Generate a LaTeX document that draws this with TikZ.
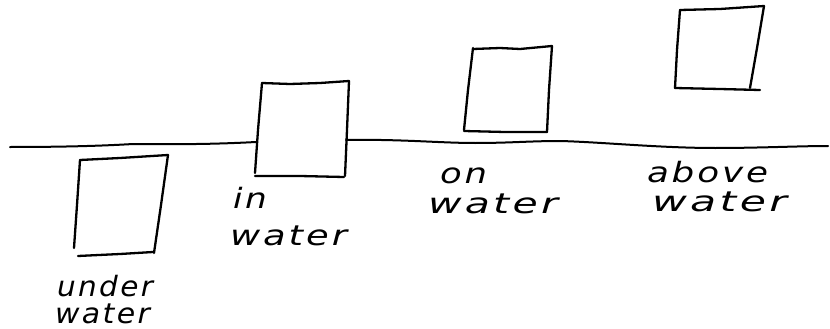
\documentclass[tikz,border=0pt]{standalone}
\usepackage{fontspec}
\usepackage{graphicx}
\newfontfamily\handfont[LetterSpace=8]{DejaVu Sans}
\tikzset{
  pen/.style={line width=2.3pt, line cap=round, line join=round, black},
  water/.style={line width=2pt, line cap=round, black},
  word/.style={anchor=base west, inner sep=0pt, outer sep=0pt,
    font=\handfont\itshape\fontsize{28}{32}\selectfont}
}
% stretch a word horizontally to the given width, keeping its height
\newcommand\handword[2]{\resizebox{#1}{\height}{#2}}
\begin{document}
\begin{tikzpicture}[x=1pt,y=-1pt]
\useasboundingbox (0,0) rectangle (830,329);

% the water surface, broken where the second box stands in it
\draw[water] (10,147) .. controls (60,147) and (100,146) .. (133,144)
  .. controls (160,144) and (200,145) .. (256,142);
\draw[water] (346,140) .. controls (400,139) and (440,143) .. (475,143)
  .. controls (510,143) and (530,141) .. (560,141)
  .. controls (600,142) and (660,148) .. (715,148)
  .. controls (760,148) and (800,146) .. (828,146);

% box under water
\draw[pen] (80,160) -- (120,158) -- (168,155);
\draw[pen] (168,155) -- (161,205) -- (154,253);
\draw[pen] (78,256) -- (120,254) -- (153,252);
\draw[pen] (80,160) -- (77,205) -- (74,248);

% box in the water
\draw[pen] (262,83) -- (290,84) -- (320,83) -- (349,81);
\draw[pen] (349,81) -- (347,130) -- (345,176);
\draw[pen] (255,176) -- (300,176) -- (344,177);
\draw[pen] (262,83) -- (258,130) -- (255,173);

% box on the water
\draw[pen] (473,49) -- (500,48) -- (520,49) -- (552,46);
\draw[pen] (552,46) -- (549,90) -- (547,132);
\draw[pen] (464,131) -- (505,132) -- (547,132);
\draw[pen] (473,48) -- (468,90) -- (464,130);

% box above the water
\draw[pen] (680,10) -- (720,9) -- (764,6);
\draw[pen] (764,6) -- (757,48) -- (750,88);
\draw[pen] (675,88) -- (720,89) -- (760,90);
\draw[pen] (680,10) -- (677,50) -- (675,88);

% labels
\node[word] (under)  at (57,296)  {\handword{96pt}{under}};
\node[word] (underw) at (55,323)  {\handword{95pt}{water}};
\node[word] (in)     at (233,208) {\handword{34pt}{in}};
\node[word] (inw)    at (230,245) {\handword{117pt}{water}};
\node[word] (on)     at (440,183) {\handword{47pt}{on}};
\node[word] (onw)    at (428,213) {\handword{130pt}{water}};
\node[word] (above)  at (647,182) {\handword{121pt}{above}};
\node[word] (abovew) at (652,211) {\handword{135pt}{water}};
\end{tikzpicture}
\end{document}
